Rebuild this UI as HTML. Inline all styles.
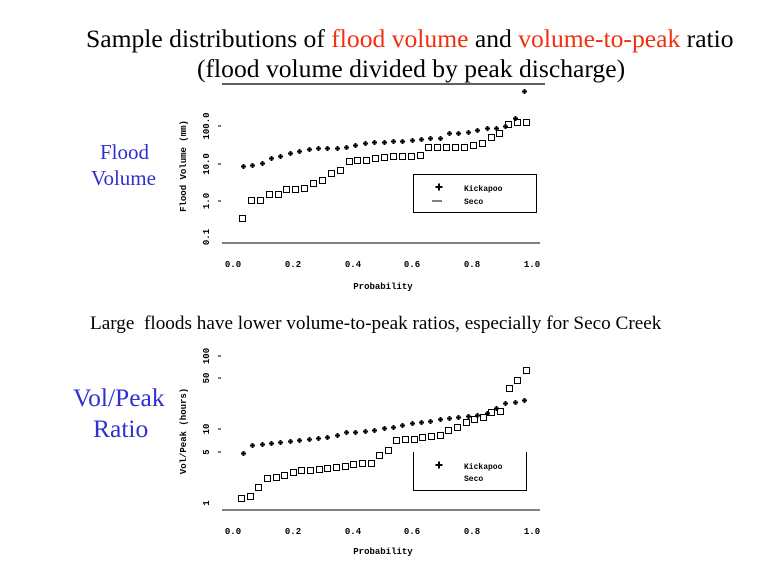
<!DOCTYPE html>
<html><head><meta charset="utf-8"><style>
html,body{margin:0;padding:0;background:#fff;}
body{width:768px;height:576px;position:relative;overflow:hidden;font-family:"Liberation Serif",serif;}
.t{position:absolute;white-space:nowrap;}
</style></head><body>
<div class="t" style="left:86px;top:24px;font-size:25.6px;color:#000;">Sample distributions of <span style="color:#f03010">flood volume</span> and <span style="color:#f03010">volume-to-peak</span> ratio</div>
<div class="t" style="left:197px;top:54px;font-size:25.6px;color:#000;">(flood volume divided by peak discharge)</div>
<div class="t" style="left:100px;top:140px;font-size:21px;color:#3030d0;">Flood</div>
<div class="t" style="left:91px;top:166px;font-size:21px;color:#3030d0;">Volume</div>
<div class="t" style="left:90px;top:313px;font-size:19.2px;color:#000;">Large&nbsp; floods have lower volume-to-peak ratios, especially for Seco Creek</div>
<div class="t" style="left:73px;top:383px;font-size:25.5px;color:#3030d0;">Vol/Peak</div>
<div class="t" style="left:93px;top:414px;font-size:25.5px;color:#3030d0;">Ratio</div>
<svg id="s" width="768" height="576" style="position:absolute;left:0;top:0" xmlns="http://www.w3.org/2000/svg" font-family="Liberation Mono, monospace" font-size="9" font-weight="bold">
<line x1="222" y1="84" x2="545" y2="84" stroke="#000" stroke-width="1.3"/>
<g stroke="#000" stroke-width="1">
<line x1="222" y1="243" x2="540" y2="243"/>
<line x1="218" y1="126" x2="221" y2="126"/><line x1="218" y1="164" x2="221" y2="164"/><line x1="218" y1="201" x2="221" y2="201"/>
<rect x="413.5" y="174.5" width="123" height="38" fill="none"/>
<line x1="222" y1="510" x2="540" y2="510"/>
<line x1="218" y1="356" x2="221" y2="356"/><line x1="218" y1="378" x2="221" y2="378"/><line x1="218" y1="429" x2="221" y2="429"/><line x1="218" y1="452" x2="221" y2="452"/>
<polyline points="413.5,452 413.5,490.5 526.5,490.5 526.5,452" fill="none"/>
<line x1="432" y1="201" x2="442" y2="201"/>
</g>
<g text-anchor="middle">
<text x="233" y="267">0.0</text><text x="293" y="267">0.2</text><text x="353" y="267">0.4</text><text x="412" y="267">0.6</text><text x="472" y="267">0.8</text><text x="532" y="267">1.0</text>
<text x="383" y="289">Probability</text>
<text x="233" y="534">0.0</text><text x="293" y="534">0.2</text><text x="353" y="534">0.4</text><text x="412" y="534">0.6</text><text x="472" y="534">0.8</text><text x="532" y="534">1.0</text>
<text x="383" y="554">Probability</text>
<text transform="translate(209,126) rotate(-90)">100.0</text>
<text transform="translate(209,164) rotate(-90)">10.0</text>
<text transform="translate(209,201) rotate(-90)">1.0</text>
<text transform="translate(209,237) rotate(-90)">0.1</text>
<text transform="translate(186,166) rotate(-90)">Flood Volume (mm)</text>
<text transform="translate(209,356) rotate(-90)">100</text>
<text transform="translate(209,378) rotate(-90)">50</text>
<text transform="translate(209,429) rotate(-90)">10</text>
<text transform="translate(209,452) rotate(-90)">5</text>
<text transform="translate(209,503) rotate(-90)">1</text>
<text transform="translate(186,431) rotate(-90)">Vol/Peak (hours)</text>
</g>
<text x="464" y="191" font-size="8">Kickapoo</text><text x="464" y="204" font-size="8">Seco</text>
<text x="464" y="469" font-size="8">Kickapoo</text><text x="464" y="481" font-size="8">Seco</text>
<g id="pts"></g>
</svg>
<script>
var g=document.getElementById('pts'),h='';
function plus(x,y,s){s=s||2.5;h+='<path d="M'+(x-s)+' '+y+'h'+(2*s)+'M'+x+' '+(y-s)+'v'+(2*s)+'" stroke="#000" stroke-width="2"/>';}
function sq(x,y){h+='<rect x="'+(x-3)+'" y="'+(y-3)+'" width="6" height="6" fill="none" stroke="#000" stroke-width="1"/>';}
function series(arr,oy,fn,x0,x1){var n=arr.length;for(var i=0;i<n;i++){var x=x0+(x1-x0)*i/(n-1);fn(Math.round(x)+.5,Math.round(oy+arr[i]/3)+.5);}}
var k1=[243,240,233,218,214,205,197,193,190,188,188,186,180,175,172,170,168,167,165,163,160,158,143,143,141,135,130,128,122,100,17];
series(k1,85,plus,243,524);
var s1=[400,345,345,328,328,313,313,308,293,285,265,255,228,225,225,218,215,213,213,213,210,185,185,185,185,185,180,175,155,145,118,110,110];
series(s1,85,sq,242,526);
var k2=[340,315,313,308,305,302,300,298,295,292,285,276,275,273,270,265,260,255,248,245,242,238,235,232,228,225,218,205,190,185,180];
series(k2,340,plus,243,524);
var s2=[475,468,440,413,410,405,397,390,390,388,385,380,378,372,370,368,345,330,300,297,297,292,288,285,270,262,245,238,232,215,213,145,120,90];
series(s2,340,sq,241,526);
plus(439,187,3.5);plus(439,465,3.5);
g.innerHTML=h;
</script>
</body></html>
